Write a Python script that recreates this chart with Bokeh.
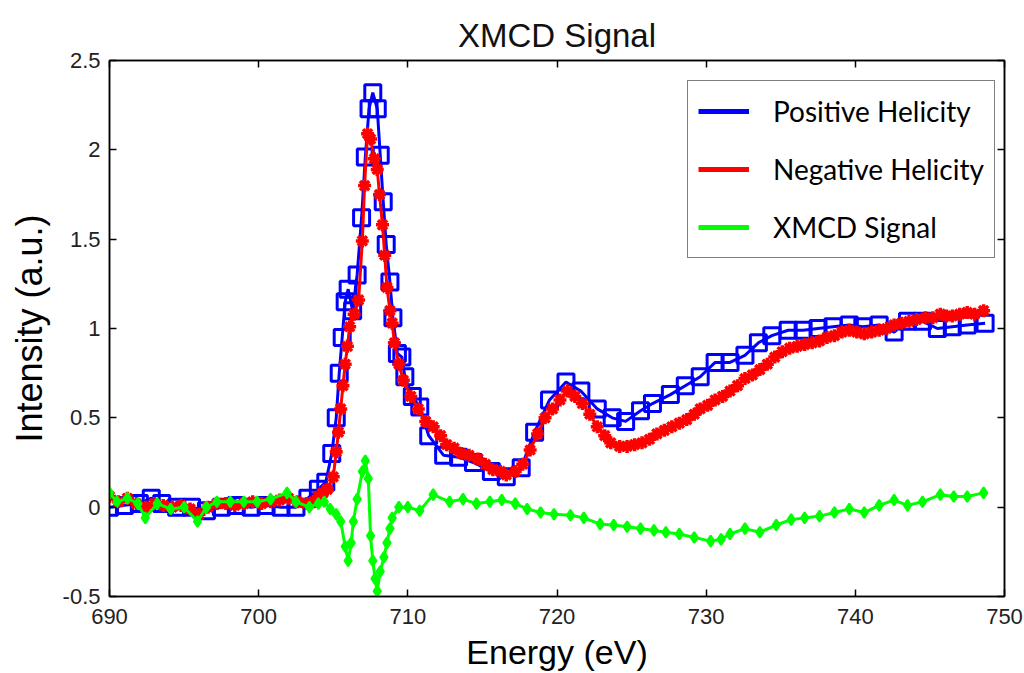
from bokeh.plotting import figure
from bokeh.models import Legend, LegendItem, LinearAxis, FixedTicker
from bokeh.embed import file_html
from bokeh.resources import INLINE

# ---------------- data ----------------
pos_energy = [690, 691, 692, 692.8, 693.5, 694.5, 695.5, 696.5, 697.5, 698.5, 699.5, 700.5, 701.5,
              702.5, 703.3, 704.0, 704.5, 704.9, 705.2, 705.4, 705.6, 705.8, 706.0, 706.3, 706.6,
              706.9, 707.15, 707.4, 707.65, 707.95, 708.15, 708.35, 708.55, 708.8, 709.0, 709.3,
              709.6, 709.8, 710.3, 710.8, 711.4, 712.4, 713.4, 714.4, 715.6, 716.6, 717.6, 718.5,
              719.5, 720.6, 721.6, 722.7, 723.7, 724.6, 725.6, 726.4, 727.6, 728.6, 729.6, 730.6,
              731.6, 732.6, 733.5, 734.4, 735.5, 736.5, 737.5, 738.5, 739.6, 740.5, 741.6, 742.6,
              743.5, 744.5, 745.5, 746.5, 747.5, 748.7]
pos_helicity = [0.0, 0.01, 0.02, 0.05, 0.02, 0.0, 0.0, -0.02, 0.0, 0.01, 0.0, 0.01, 0.0,
                0.0, 0.05, 0.10, 0.14, 0.30, 0.50, 0.75, 0.95, 1.15, 1.22, 1.10, 1.30,
                1.62, 1.96, 2.23, 2.32, 2.23, 1.97, 1.71, 1.47, 1.26, 1.06, 0.86,
                0.84, 0.73, 0.62, 0.56, 0.40, 0.29, 0.28, 0.25, 0.20, 0.17, 0.22, 0.42,
                0.60, 0.70, 0.65, 0.55, 0.50, 0.48, 0.54, 0.58, 0.63, 0.68, 0.73, 0.81,
                0.81, 0.85, 0.92, 0.96, 0.99, 0.99, 1.00, 1.01, 1.02, 1.01, 1.02, 0.98,
                1.04, 1.04, 1.00, 1.01, 1.02, 1.03]

neg_energy = [690, 690.6, 691.2, 691.8, 692.4, 693.0, 693.6, 694.2, 694.8, 695.4, 696.0, 696.6,
              697.2, 697.8, 698.4, 699.0, 699.6, 700.2, 700.8, 701.4, 702.0, 702.6, 703.2, 703.7,
              704.0, 704.3, 704.6, 705.0, 705.2, 705.35, 705.5, 705.65, 705.8, 705.95, 706.1,
              706.4, 706.7, 706.95, 707.1, 707.3, 707.5, 707.75, 707.95, 708.1, 708.3, 708.45,
              708.6, 708.8, 708.95, 709.1, 709.4, 709.7, 710.2, 710.7, 711.2, 711.7, 712.2, 712.6,
              713.1, 713.6, 714.1, 714.7, 715.2, 715.7, 716.2, 716.6, 717.2, 717.7, 718.2, 718.7,
              719.2, 719.7, 720.2, 720.7, 721.2, 721.7, 722.2, 722.7, 723.2, 723.6, 724.2, 724.7,
              725.2, 725.7, 726.2, 726.7, 727.2, 727.7, 728.2, 728.7, 729.2, 729.6, 730.1, 730.6,
              731.1, 731.6, 732.1, 732.6, 733.1, 733.6, 734.1, 734.6, 735.1, 735.6, 736.1, 736.6,
              737.1, 737.6, 738.1, 738.6, 739.1, 739.6, 740.1, 740.6, 741.1, 741.6, 742.1, 742.6,
              743.1, 743.6, 744.1, 744.7, 745.2, 745.7, 746.1, 746.5, 747.0, 747.5, 748.0, 748.6]
neg_helicity = [0.06, 0.03, 0.05, 0.02, 0.0, 0.02, 0.01, 0.0, 0.01, -0.01, -0.04, 0.0,
                0.02, 0.02, 0.01, 0.02, 0.03, 0.02, 0.03, 0.04, 0.05, 0.03, 0.02, 0.03,
                0.06, 0.08, 0.10, 0.17, 0.31, 0.42, 0.55, 0.68, 0.80, 0.90, 1.01,
                1.08, 1.16, 1.49, 1.80, 2.09, 2.06, 1.95, 1.89, 1.75, 1.58, 1.41,
                1.23, 1.10, 1.03, 0.92, 0.80, 0.71, 0.62, 0.55, 0.48, 0.45, 0.40, 0.35,
                0.33, 0.30, 0.29, 0.27, 0.24, 0.21, 0.20, 0.18, 0.20, 0.24, 0.32, 0.41,
                0.50, 0.55, 0.60, 0.65, 0.62, 0.58, 0.52, 0.45, 0.40, 0.36, 0.34, 0.34,
                0.35, 0.36, 0.38, 0.41, 0.43, 0.45, 0.47, 0.49, 0.52, 0.55, 0.57, 0.60,
                0.62, 0.65, 0.68, 0.72, 0.74, 0.77, 0.80, 0.84, 0.87, 0.89, 0.90, 0.91,
                0.92, 0.93, 0.95, 0.96, 0.98, 0.99, 0.98, 0.97, 0.98, 0.99, 1.00, 1.02,
                1.03, 1.04, 1.05, 1.06, 1.06, 1.08, 1.07, 1.07, 1.08, 1.09, 1.08, 1.10]

xmcd_energy = [690, 690.5, 691.2, 691.9, 692.4, 693.2, 694.1, 695.0, 695.9, 696.5, 697.2, 698.1,
               699.0, 699.9, 700.8, 701.9, 702.5, 703.4, 704.0, 704.4, 704.8, 705.2, 705.5, 705.8,
               706.0, 706.2, 706.35, 706.6, 706.95, 707.15, 707.35, 707.5, 707.65, 707.8, 707.95,
               708.15, 708.4, 708.6, 708.8, 708.95, 709.4, 710.0, 710.8, 711.7, 712.8, 713.7,
               714.6, 715.5, 716.3, 717.2, 718.0, 718.9, 719.8, 720.9, 721.8, 722.9, 723.8, 724.7,
               725.6, 726.5, 727.3, 728.2, 729.2, 730.3, 731.0, 731.6, 732.6, 733.6, 734.7, 735.7,
               736.6, 737.6, 738.6, 739.6, 740.6, 741.6, 742.6, 743.5, 744.5, 745.7, 746.6, 747.5,
               748.6]
xmcd_signal = [0.08, 0.03, 0.05, 0.02, -0.06, 0.02, -0.01, 0.0, -0.08, 0.0, 0.03, 0.03,
               0.03, 0.03, 0.045, 0.08, 0.03, 0.0, 0.02, 0.03, -0.01, -0.04, -0.08, -0.22,
               -0.30, -0.20, -0.08, 0.045, 0.20, 0.26, 0.16, -0.16, -0.30, -0.40, -0.47,
               -0.36, -0.28, -0.20, -0.12, -0.06, 0.0, 0.0, -0.02, 0.07, 0.03, 0.045,
               0.02, 0.03, 0.04, 0.02, -0.01, -0.03, -0.04, -0.045, -0.06, -0.095, -0.10, -0.11,
               -0.12, -0.13, -0.14, -0.15, -0.17, -0.19, -0.18, -0.15, -0.12, -0.14, -0.10, -0.07,
               -0.06, -0.05, -0.03, -0.01, -0.03, 0.01, 0.04, 0.01, 0.03, 0.07, 0.06, 0.06,
               0.08]

series_labels = ["Positive Helicity", "Negative Helicity", "XMCD Signal"]
x_ticks = [690, 700, 710, 720, 730, 740, 750]
x_tick_labels = ["690", "700", "710", "720", "730", "740", "750"]
y_ticks = [-0.5, 0, 0.5, 1, 1.5, 2, 2.5]
y_tick_labels = ["-0.5", "0", "0.5", "1", "1.5", "2", "2.5"]

BLUE, RED, GREEN = "#0000FF", "#FF0000", "#00FF00"
TICK_FONT = "Liberation Sans"

p = figure(width=1024, height=673, output_backend="svg", toolbar_location=None,
           x_range=(690, 750), y_range=(-0.5, 2.5),
           min_border_left=109, min_border_right=20, min_border_top=60, min_border_bottom=76,
           title="XMCD Signal")
p.xgrid.visible = False
p.ygrid.visible = False
p.outline_line_color = "black"
p.outline_line_width = 1.5
p.background_fill_color = "white"
p.border_fill_color = "white"

p.title.align = "center"
p.title.vertical_align = "top"
p.title.text_font = "Liberation Sans"
p.title.text_font_size = "33px"
p.title.text_font_style = "normal"
p.title.text_color = "#111111"
p.title.offset = 0
p.title.standoff = 10

# main axes
xa = p.xaxis[0]
ya = p.yaxis[0]
xa.ticker = FixedTicker(ticks=x_ticks)
ya.ticker = FixedTicker(ticks=y_ticks)
xa.major_label_overrides = {t: s for t, s in zip(x_ticks, x_tick_labels)}
ya.major_label_overrides = {t: s for t, s in zip(y_ticks, y_tick_labels)}
for ax in (xa, ya):
    ax.major_tick_in = 7
    ax.major_tick_out = 0
    ax.minor_tick_line_color = None
    ax.axis_line_color = "black"
    ax.axis_line_width = 1.5
    ax.major_tick_line_width = 1.5
    ax.major_label_text_font = TICK_FONT
    ax.major_label_text_font_size = "22px"
    ax.major_label_text_color = "#222222"
    ax.axis_label_text_font = "Liberation Sans"
    ax.axis_label_text_font_style = "normal"
    ax.axis_label_text_color = "black"
xa.axis_label = "Energy (eV)"
ya.axis_label = "Intensity (a.u.)"
xa.axis_label_text_font_size = "34px"
ya.axis_label_text_font_size = "36px"
xa.major_label_standoff = 12
xa.axis_label_standoff = 6
ya.major_label_standoff = 9
ya.axis_label_standoff = 10

# mirrored tick axes on top and right
for place, ticks in (("above", x_ticks), ("right", y_ticks)):
    ax = LinearAxis(ticker=FixedTicker(ticks=ticks),
                    major_label_overrides={t: "" for t in ticks})
    ax.major_tick_in = 7
    ax.major_tick_out = 0
    ax.minor_tick_line_color = None
    ax.axis_line_width = 1.5
    ax.major_tick_line_width = 1.5
    ax.major_label_text_font_size = "0px"
    ax.major_label_standoff = 0
    p.add_layout(ax, place)

# series
p.line(pos_energy, pos_helicity, line_color=BLUE, line_width=3)
p.scatter(pos_energy, pos_helicity, marker="square", size=16, fill_color=None,
          line_color=BLUE, line_width=3)

p.line(neg_energy, neg_helicity, line_color=RED, line_width=3)
p.scatter(neg_energy, neg_helicity, marker="asterisk", size=13,
          line_color=RED, line_width=3.5)

p.line(xmcd_energy, xmcd_signal, line_color=GREEN, line_width=3)
p.scatter(xmcd_energy, xmcd_signal, marker="diamond", size=11, fill_color=GREEN,
          line_color=GREEN, line_width=2)

# legend proxies (line only; a single-point line draws nothing in the plot)
leg_pos = p.line(pos_energy[:1], pos_helicity[:1], line_color=BLUE, line_width=5)
leg_neg = p.line(neg_energy[:1], neg_helicity[:1], line_color=RED, line_width=5)
leg_xmcd = p.line(xmcd_energy[:1], xmcd_signal[:1], line_color=GREEN, line_width=5)

legend = Legend(items=[LegendItem(label=series_labels[0], renderers=[leg_pos]),
                       LegendItem(label=series_labels[1], renderers=[leg_neg]),
                       LegendItem(label=series_labels[2], renderers=[leg_xmcd])],
                location=(578, 338))
legend.border_line_color = "black"
legend.border_line_width = 1
legend.background_fill_color = "white"
legend.background_fill_alpha = 1
legend.label_text_font = "Lato"
legend.label_text_font_size = "28px"
legend.label_text_color = "black"
legend.glyph_width = 51
legend.glyph_height = 30
legend.label_height = 40
legend.label_standoff = 24
legend.spacing = 18
legend.padding = 10
legend.margin = 0
p.add_layout(legend)

open("out.html", "w").write(file_html(p, INLINE))
